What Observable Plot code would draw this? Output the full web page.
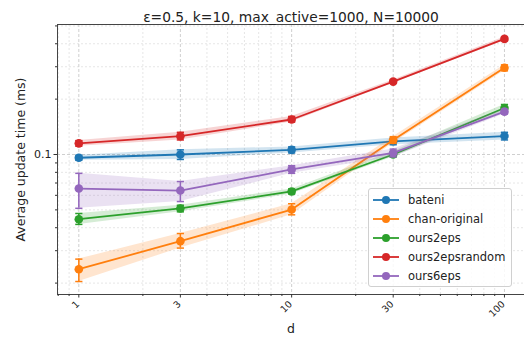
<!DOCTYPE html>
<html><head><meta charset="utf-8">
<script src="https://cdn.jsdelivr.net/npm/d3@7"></script>
<script src="https://cdn.jsdelivr.net/npm/@observablehq/plot@0.6"></script>
<style>
body{margin:0;background:#fff;font-family:"DejaVu Sans",sans-serif;}
#wrap{position:relative;width:524px;height:345px;overflow:hidden;}
#legend{position:absolute;left:368px;top:188px;width:144px;height:99px;background:rgba(255,255,255,0.85);border:1px solid #d0d0d0;border-radius:3px;box-sizing:border-box;padding:2px 0 0 3px;font-size:11.5px;color:#222;}
.row{display:flex;align-items:center;height:18.8px;}
.row svg{margin-right:8px;}
</style></head>
<body><div id="wrap"><div id="chart"></div><div id="legend"></div></div>
<script>
const title = "ε=0.5, k=10, max_active=1000, N=10000";
const dValues = [1, 3, 10, 30, 100];
const seriesNames = ["bateni", "chan-original", "ours2eps", "ours2epsrandom", "ours6eps"];
const seriesColors = ["#1f77b4", "#ff7f0e", "#2ca02c", "#d62728", "#9467bd"];
const batenMean = [0.096, 0.100, 0.106, 0.118, 0.126];
const batenLo   = [0.093, 0.094, 0.102, 0.113, 0.120];
const batenHi   = [0.099, 0.106, 0.110, 0.123, 0.132];
const chanMean  = [0.0238, 0.0338, 0.0502, 0.120, 0.296];
const chanLo    = [0.0204, 0.0310, 0.0470, 0.115, 0.285];
const chanHi    = [0.0270, 0.0372, 0.0540, 0.125, 0.307];
const o2Mean    = [0.0445, 0.0509, 0.063, 0.100, 0.179];
const o2Lo      = [0.0417, 0.0488, 0.061, 0.097, 0.172];
const o2Hi      = [0.0478, 0.0530, 0.065, 0.104, 0.187];
const o2rMean   = [0.115, 0.1258, 0.155, 0.249, 0.425];
const o2rLo     = [0.111, 0.120, 0.150, 0.244, 0.415];
const o2rHi     = [0.119, 0.132, 0.161, 0.254, 0.435];
const o6Mean    = [0.0653, 0.0637, 0.083, 0.102, 0.171];
const o6Lo      = [0.051, 0.0555, 0.079, 0.097, 0.166];
const o6Hi      = [0.079, 0.0713, 0.087, 0.107, 0.176];
const xMajor = [1, 3, 10, 30, 100];
const xTickLabels = ["1", "3", "10", "30", "100"];
const xMinor = [0.8, 0.9, 2, 4, 5, 6, 7, 8, 9, 20, 40, 50, 60, 70, 80, 90];
const yMajor = [0.1];
const yTickLabels = ["0.1"];
const yMinor = [0.02, 0.03, 0.04, 0.05, 0.06, 0.07, 0.08, 0.09, 0.2, 0.3, 0.4, 0.5];

const means = [batenMean, chanMean, o2Mean, o2rMean, o6Mean];
const los = [batenLo, chanLo, o2Lo, o2rLo, o6Lo];
const his = [batenHi, chanHi, o2Hi, o2rHi, o6Hi];

const capSymbol = {draw(ctx, size){ const r = Math.sqrt(size/Math.PI); ctx.moveTo(-r,0); ctx.lineTo(r,0); }};

const seriesMarks = seriesNames.flatMap((name, i) => {
  const rows = dValues.map((d, j) => ({d, mean: means[i][j], lo: los[i][j], hi: his[i][j]}));
  const c = seriesColors[i];
  return [
    Plot.areaY(rows, {x: "d", y1: "lo", y2: "hi", fill: c, fillOpacity: 0.2}),
    Plot.ruleX(rows, {x: "d", y1: "lo", y2: "hi", stroke: c, strokeWidth: 1.5}),
    Plot.dot(rows, {x: "d", y: "lo", symbol: capSymbol, r: 3.6, stroke: c, strokeWidth: 1.5, fill: "none"}),
    Plot.dot(rows, {x: "d", y: "hi", symbol: capSymbol, r: 3.6, stroke: c, strokeWidth: 1.5, fill: "none"}),
    Plot.line(rows, {x: "d", y: "mean", stroke: c, strokeWidth: 1.8}),
    Plot.dot(rows, {x: "d", y: "mean", fill: c, r: 4.3, stroke: "none"})
  ];
});

const xLabelRows = xMajor.map((v, i) => ({v, t: xTickLabels[i]}));
const yLabelRows = yMajor.map((v, i) => ({v, t: yTickLabels[i]}));

const chart = Plot.plot({
  width: 524, height: 345,
  marginLeft: 57, marginRight: 0, marginTop: 24, marginBottom: 51,
  style: {fontFamily: "DejaVu Sans, sans-serif", color: "#222", background: "#fff", overflow: "visible"},
  x: {type: "log", domain: [0.794, 124.2]},
  y: {type: "log", domain: [0.01734, 0.509]},
  marks: [
    Plot.gridX(xMinor, {stroke: "#e6e6e6", strokeOpacity: 1, strokeDasharray: "2,2"}),
    Plot.gridY(yMinor, {stroke: "#e6e6e6", strokeOpacity: 1, strokeDasharray: "2,2"}),
    Plot.gridX(xMajor, {stroke: "#cfcfcf", strokeOpacity: 1, strokeDasharray: "3,2"}),
    Plot.gridY(yMajor, {stroke: "#cfcfcf", strokeOpacity: 1, strokeDasharray: "3,2"}),
    ...seriesMarks,
    Plot.frame({stroke: "#444", strokeWidth: 1}),
    Plot.axisX(xMinor, {tickSize: 2, tickFormat: () => "", label: null, stroke: "#333"}),
    Plot.axisX(xMajor, {tickSize: 3.5, tickFormat: () => "", label: null, stroke: "#333"}),
    Plot.text(xLabelRows, {x: "v", text: "t", frameAnchor: "bottom", dy: 8, dx: -1, rotate: -45, textAnchor: "end", lineAnchor: "middle", fontSize: 9.5, fill: "#222"}),
    Plot.axisY(yMinor, {tickSize: 2, tickFormat: () => "", label: null, stroke: "#333"}),
    Plot.axisY(yMajor, {tickSize: 3.5, tickFormat: () => "", label: null, stroke: "#333"}),
    Plot.text(yLabelRows, {y: "v", text: "t", frameAnchor: "left", dx: -6, textAnchor: "end", fontSize: 11, fill: "#222"}),
    Plot.text([title], {frameAnchor: "top", dy: -12, fontSize: 13.8, fill: "#222"}),
    Plot.text(["d"], {frameAnchor: "bottom", dy: 38, fontSize: 12.5, fill: "#222"}),
    Plot.text(["Average update time (ms)"], {frameAnchor: "left", dx: -37, rotate: -90, textAnchor: "middle", fontSize: 12.5, fill: "#222"})
  ]
});
document.getElementById("chart").appendChild(chart);

const legend = document.getElementById("legend");
seriesNames.forEach((name, i) => {
  const row = document.createElement("div");
  row.className = "row";
  row.innerHTML = `<svg width="28" height="10"><line x1="1" y1="5" x2="27" y2="5" stroke="${seriesColors[i]}" stroke-width="1.8"/><circle cx="14" cy="5" r="4" fill="${seriesColors[i]}"/></svg><span>${name}</span>`;
  legend.appendChild(row);
});
</script></body></html>
